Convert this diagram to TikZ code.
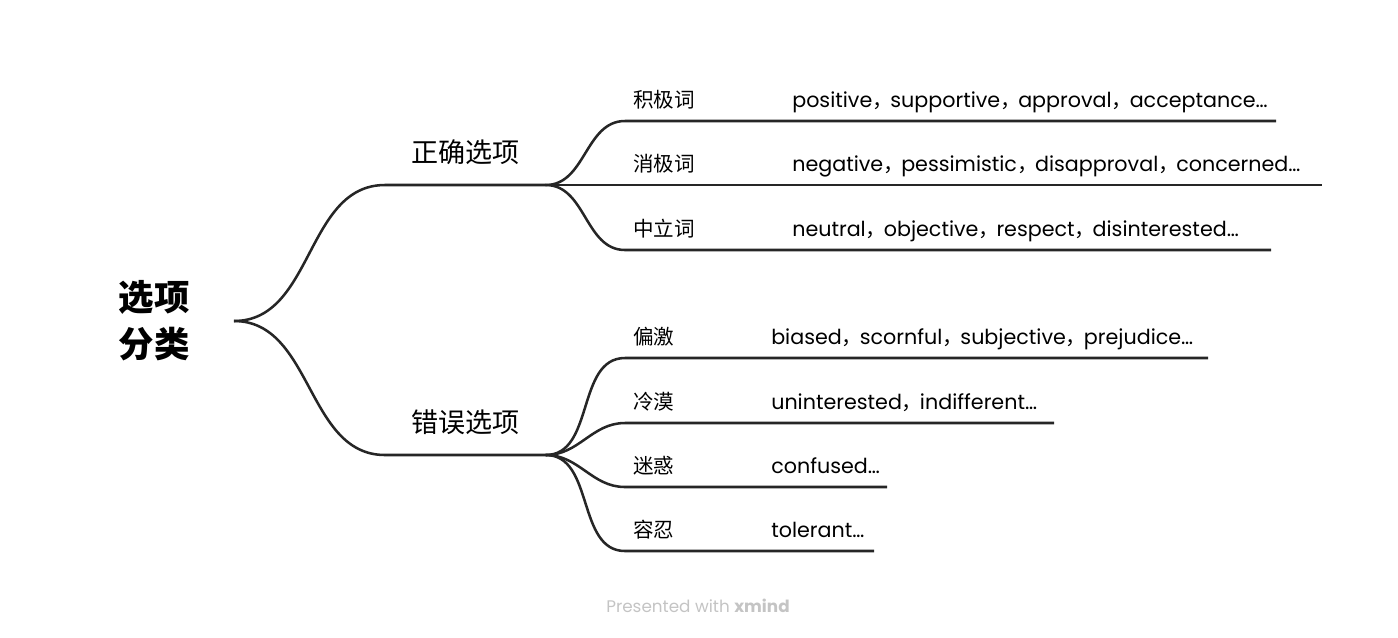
\documentclass[tikz,border=0pt]{standalone}
\usepackage{fontspec}
\setmainfont{Poppins}
\newfontfamily\cjk{Noto Sans CJK SC}
\usetikzlibrary{positioning}
\newcommand{\zc}{{\cjk ，}\kern-2pt}
\definecolor{linegray}{HTML}{262626}
\definecolor{footgray}{HTML}{C4C4C4}
\tikzstyle{branch}=[draw=linegray, line width=1.9pt]
\tikzstyle{roottopic}=[font=\cjk\bfseries\fontsize{26.6}{35}\selectfont, align=center, inner xsep=33pt, inner ysep=0pt, anchor=east]
\tikzstyle{maintopic}=[font=\cjk\fontsize{20.3}{24}\selectfont, inner xsep=19.5pt, inner ysep=16.5pt, text depth=0pt, anchor=south west]
\tikzstyle{subtopic}=[font=\cjk\fontsize{15.4}{18}\selectfont, inner xsep=6pt, inner ysep=10.3pt, text depth=0pt, anchor=south west]
\tikzstyle{wordlist}=[font=\fontsize{15.5}{18}\selectfont, inner xsep=6pt, inner ysep=10.3pt, text depth=0pt, anchor=south west]
\tikzstyle{footer}=[font=\fontsize{12.6}{15}\selectfont, text=footgray]

\begin{document}
\begin{tikzpicture}[x=0.75pt,y=-0.75pt]
  \useasboundingbox (0,0) rectangle (1398,637);
  % topics
  \node[roottopic] (root) at (234,321) {选项\\分类};
  \node[maintopic] (correct) at (385,185) {正确选项};
  \node[maintopic] (wrong) at (385,455) {错误选项};
  % correct options
  \node[subtopic] (pos) at (625,121) {积极词};
  \node[subtopic] (neg) at (625,185) {消极词};
  \node[subtopic] (neu) at (625,250) {中立词};
  \node[wordlist] (posx) at (784,121) {positive\zc supportive\zc approval\zc acceptance…};
  \node[wordlist] (negx) at (784,185) {negative\zc pessimistic\zc disapproval\zc concerned…};
  \node[wordlist] (neux) at (784,250) {neutral\zc objective\zc respect\zc disinterested…};
  % wrong options
  \node[subtopic] (bias) at (625,358) {偏激};
  \node[subtopic] (cold) at (625,423) {冷漠};
  \node[subtopic] (conf) at (625,487) {迷惑};
  \node[subtopic] (tol) at (625,551) {容忍};
  \node[wordlist] (biasx) at (763,358) {biased\zc scornful\zc subjective\zc prejudice…};
  \node[wordlist] (coldx) at (763,423) {uninterested\zc indifferent…};
  \node[wordlist] (confx) at (763,487) {confused…};
  \node[wordlist] (tolx) at (763,551) {tolerant…};
  % line ends
  \coordinate (posend) at (1276,121);
  \coordinate (negend) at (1322,185);
  \coordinate (neuend) at (1271,250);
  \coordinate (biasend) at (1208,358);
  \coordinate (coldend) at (1054,423);
  \coordinate (confend) at (887,487);
  \coordinate (tolend) at (874,551);

  \draw[branch] (root.east) to[out=0,in=180] (correct.south west) -- (correct.south east);
  \draw[branch] (root.east) to[out=0,in=180] (wrong.south west) -- (wrong.south east);
  \draw[branch] (correct.south east) to[out=0,in=180] (pos.south west) -- (posend);
  \draw[branch] (correct.south east) -- (neg.south west) -- (negend);
  \draw[branch] (correct.south east) to[out=0,in=180] (neu.south west) -- (neuend);
  \draw[branch] (wrong.south east) to[out=0,in=180] (bias.south west) -- (biasend);
  \draw[branch] (wrong.south east) to[out=0,in=180] (cold.south west) -- (coldend);
  \draw[branch] (wrong.south east) to[out=0,in=180] (conf.south west) -- (confend);
  \draw[branch] (wrong.south east) to[out=0,in=180] (tol.south west) -- (tolend);

  \node[footer] (credit) at (698,606) {Presented with \textbf{xmind}};
\end{tikzpicture}
\end{document}
